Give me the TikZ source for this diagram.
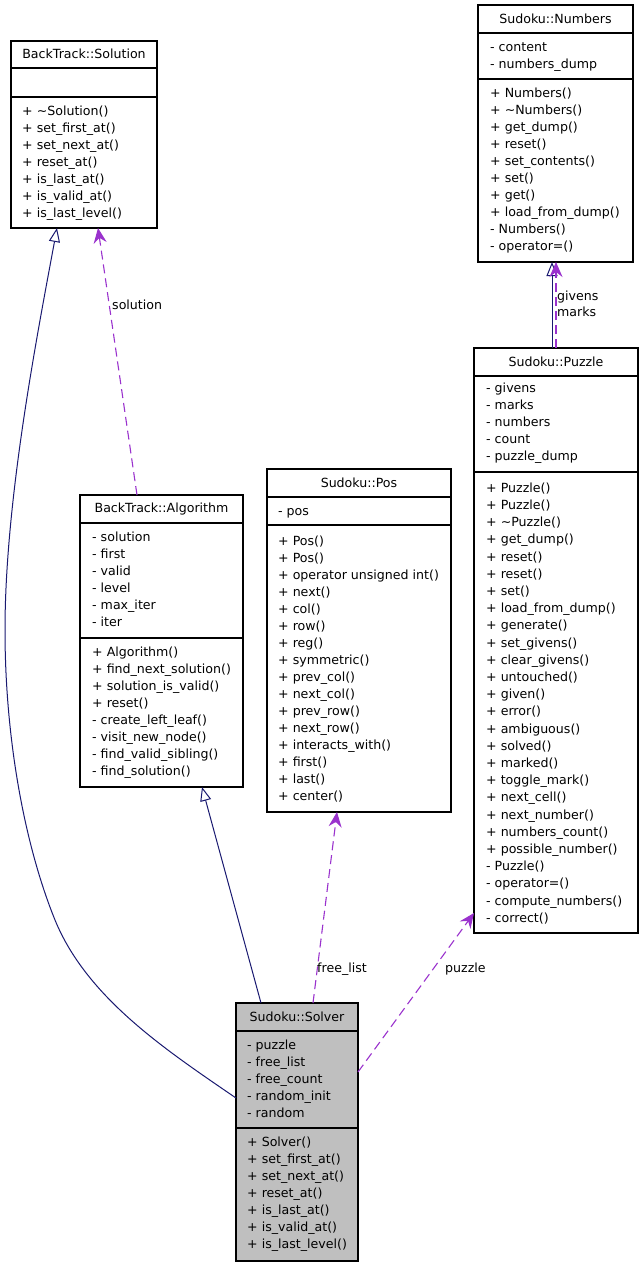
\documentclass[tikz,border=0pt]{standalone}
\usepackage{fontspec}
\setmainfont{DejaVu Sans}
\usetikzlibrary{arrows.meta}
\definecolor{navy}{HTML}{191970}
\definecolor{purp}{HTML}{9A32CD}
\definecolor{solvergray}{HTML}{BFBFBF}
\newcommand\dv{\fontsize{12.6}{17}\selectfont}
\newcommand\classrows[5]{%
  \foreach \t [count=\i from 0] in {#5} {\node[row] (#1-\i) at (#2,{#3+4.3+#4*\i}) {\t};}}
\tikzset{
  cls/.style={draw=black, line width=1.3pt, fill=white, anchor=north west, inner sep=0pt, outer sep=0pt},
  sep/.style={draw=black, line width=1.3pt},
  row/.style={anchor=base west, inner sep=0pt, font=\dv},
  ttl/.style={anchor=base, inner sep=0pt, font=\dv},
  lbl/.style={anchor=base west, inner sep=0pt, font=\dv},
  inh/.style={draw=navy, line width=1pt, -{Triangle[length=14pt, width=11pt, fill=white]}},
  use/.style={draw=purp, line width=1.1pt, dash pattern=on 9pt off 5pt, -{Stealth[length=15pt, width=13pt, inset=5pt]}},
}
\begin{document}
\begin{tikzpicture}[x=1pt, y=-1pt]
\useasboundingbox (0,0) rectangle (643,1267);

% ---------------- BackTrack::Solution
\node[cls, minimum width=146, minimum height=187] (solution) at (11,41) {};
\node[ttl] (solution-t) at (84,58.3) {BackTrack::Solution};
\draw[sep] (11,68) -- (157,68);
\draw[sep] (11,97) -- (157,97);
\classrows{solm}{22}{111}{17}{+ \textasciitilde Solution(), + set\_first\_at(), + set\_next\_at(), + reset\_at(), + is\_last\_at(), + is\_valid\_at(), + is\_last\_level()}

% ---------------- Sudoku::Numbers
\node[cls, minimum width=155, minimum height=257] (numbers) at (478,5) {};
\node[ttl] (numbers-t) at (555.5,23.3) {Sudoku::Numbers};
\draw[sep] (478,33) -- (633,33);
\draw[sep] (478,79) -- (633,79);
\classrows{numa}{490}{47}{17}{- content, - numbers\_dump}
\classrows{numm}{490}{93}{17}{+ Numbers(), + \textasciitilde Numbers(), + get\_dump(), + reset(), + set\_contents(), + set(), + get(), + load\_from\_dump(), - Numbers(), - operator=()}

% ---------------- Sudoku::Puzzle
\node[cls, minimum width=164, minimum height=585] (puzzle) at (474,348) {};
\node[ttl] (puzzle-t) at (556,366.3) {Sudoku::Puzzle};
\draw[sep] (474,376) -- (638,376);
\draw[sep] (474,472) -- (638,472);
\classrows{puza}{486}{388}{17}{- givens, - marks, - numbers, - count, - puzzle\_dump}
\classrows{puzm}{486}{488}{17.2}{+ Puzzle(), + Puzzle(), + \textasciitilde Puzzle(), + get\_dump(), + reset(), + reset(), + set(), + load\_from\_dump(), + generate(), + set\_givens(), + clear\_givens(), + untouched(), + given(), + error(), + ambiguous(), + solved(), + marked(), + toggle\_mark(), + next\_cell(), + next\_number(), + numbers\_count(), + possible\_number(), - Puzzle(), - operator=(), - compute\_numbers(), - correct()}

% ---------------- BackTrack::Algorithm
\node[cls, minimum width=163, minimum height=292] (algo) at (80,495) {};
\node[ttl] (algo-t) at (161.5,512.3) {BackTrack::Algorithm};
\draw[sep] (80,523) -- (243,523);
\draw[sep] (80,638) -- (243,638);
\classrows{alga}{92}{537}{17}{- solution, - first, - valid, - level, - max\_iter, - iter}
\classrows{algm}{92}{652}{17}{+ Algorithm(), + find\_next\_solution(), + solution\_is\_valid(), + reset(), - create\_left\_leaf(), - visit\_new\_node(), - find\_valid\_sibling(), - find\_solution()}

% ---------------- Sudoku::Pos
\node[cls, minimum width=184, minimum height=343] (pos) at (267,469) {};
\node[ttl] (pos-t) at (359,487.3) {Sudoku::Pos};
\draw[sep] (267,497) -- (451,497);
\draw[sep] (267,525) -- (451,525);
\classrows{posa}{278}{511}{17}{- pos}
\classrows{posm}{278}{541}{17}{+ Pos(), + Pos(), + operator unsigned int(), + next(), + col(), + row(), + reg(), + symmetric(), + prev\_col(), + next\_col(), + prev\_row(), + next\_row(), + interacts\_with(), + first(), + last(), + center()}

% ---------------- Sudoku::Solver
\node[cls, fill=solvergray, minimum width=122, minimum height=258] (solver) at (236,1003) {};
\node[ttl] (solver-t) at (297,1021.3) {Sudoku::Solver};
\draw[sep] (236,1031) -- (358,1031);
\draw[sep] (236,1128) -- (358,1128);
\classrows{sola}{247}{1045}{17}{- puzzle, - free\_list, - free\_count, - random\_init, - random}
\classrows{solv}{247}{1142}{17}{+ Solver(), + set\_first\_at(), + set\_next\_at(), + reset\_at(), + is\_last\_at(), + is\_valid\_at(), + is\_last\_level()}

% ---------------- inheritance edges
\draw[inh] ([yshift=-95pt]solver.north west)
   .. controls (166,1050) and (87,998) .. (55,920)
   .. controls (25,846) and (5,740) .. (5,630)
   .. controls (5,500) and (37,336) .. ([xshift=46pt]solution.south west);
\draw[inh] ([xshift=25pt]solver.north west) -- ([xshift=122pt]algo.south west);
\draw[inh] ([xshift=78pt]puzzle.north west) -- ([xshift=74pt]numbers.south west);

% ---------------- usage edges
\draw[use] ([xshift=57pt]algo.north west) -- ([xshift=87pt]solution.south west);
\draw[use] ([xshift=77pt]solver.north west) -- ([xshift=70pt]pos.south west);
\draw[use] ([yshift=-69pt]solver.north east) -- ([yshift=20pt]puzzle.south west);
\draw[use] ([xshift=82pt]puzzle.north west) -- ([xshift=78pt]numbers.south west);

% ---------------- edge labels
\node[lbl] (l-solution) at (112,309.3) {solution};
\node[lbl] (l-freelist) at (317,972.3) {free\_list};
\node[lbl] (l-puzzle) at (445,972.3) {puzzle};
\node[lbl] (l-givens) at (557,300.3) {givens};
\node[lbl] (l-marks) at (557,316.3) {marks};
\end{tikzpicture}
\end{document}
